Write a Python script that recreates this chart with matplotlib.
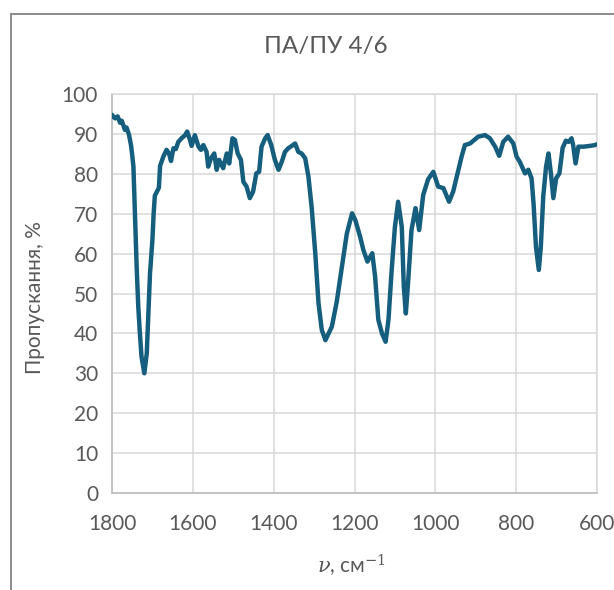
import matplotlib
matplotlib.use("Agg")
import matplotlib.pyplot as plt
from matplotlib.patches import Rectangle

wavenumber = [1800, 1796, 1792, 1786, 1780, 1776, 1772, 1768, 1764, 1758, 1753, 1750,
              1747, 1743, 1739, 1735, 1731, 1727, 1720, 1714, 1710, 1706, 1700, 1697,
              1694, 1689, 1684, 1681, 1673, 1665, 1659, 1654, 1648, 1642, 1636, 1628,
              1619, 1614, 1607, 1603, 1595, 1586, 1580, 1574, 1566, 1562, 1555, 1547,
              1541, 1535, 1525, 1516, 1510, 1502, 1496, 1489, 1481, 1475, 1467, 1459,
              1451, 1443, 1436, 1430, 1421, 1415, 1406, 1397, 1388, 1380, 1372, 1364,
              1355, 1347, 1339, 1331, 1322, 1314, 1306, 1297, 1289, 1281, 1272, 1264,
              1256, 1244, 1231, 1219, 1206, 1198, 1186, 1178, 1168, 1156, 1149, 1141,
              1132, 1123, 1116, 1108, 1100, 1092, 1083, 1078, 1073, 1067, 1059, 1049,
              1040, 1030, 1018, 1005, 993, 980, 966, 956, 943, 935, 927, 914, 894, 877,
              865, 852, 842, 832, 820, 807, 799, 791, 778, 770, 762, 757, 751, 744, 739,
              733, 726, 720, 714, 708, 701, 693, 685, 677, 670, 663, 659, 653, 646, 633,
              617, 605, 600]
transmittance = [94.8, 94.2, 93.9, 94.4, 92.8, 93.3, 92.2, 91.0, 91.6, 89.8, 87.2, 84.7,
                 81.8, 69.2, 56.7, 46.7, 40.0, 34.2, 30.0, 35.0, 45.0, 55.0, 63.4, 70.0,
                 74.5, 75.5, 76.5, 82.0, 84.3, 86.0, 85.1, 83.2, 86.4, 86.2, 88.0, 88.9,
                 89.7, 90.6, 88.5, 87.0, 89.7, 86.8, 86.0, 87.2, 85.5, 81.8, 83.9, 85.1,
                 81.0, 83.5, 81.4, 85.1, 82.6, 88.9, 88.5, 85.1, 83.5, 78.0, 76.8, 73.9,
                 75.5, 80.1, 80.5, 86.8, 88.9, 89.7, 87.2, 83.5, 81.0, 83.0, 85.5, 86.4,
                 87.0, 87.6, 85.5, 85.1, 83.9, 79.3, 71.6, 60.0, 47.5, 40.9, 38.3, 40.0,
                 41.7, 47.9, 56.7, 65.0, 70.1, 68.4, 64.2, 60.9, 58.0, 60.1, 54.2, 43.4,
                 40.0, 37.9, 43.4, 55.9, 66.7, 73.0, 66.7, 51.7, 45.0, 53.4, 65.9, 71.4,
                 65.9, 74.7, 78.6, 80.5, 76.8, 76.4, 73.0, 75.5, 80.9, 84.3, 87.2, 87.6, 89.3, 89.7,
                 88.9, 86.8, 84.5, 88.0, 89.3, 87.6, 84.3, 83.0, 80.1, 81.0, 78.9, 72.6, 61.7, 55.9, 61.7,
                 74.3, 81.8, 85.1, 80.1, 73.9, 78.9, 80.1, 86.5, 88.3, 88.0, 88.9, 87.2, 82.6, 86.8, 86.8,
                 87.0, 87.2, 87.4]

x_ticks = [1800, 1600, 1400, 1200, 1000, 800, 600]
y_ticks = [0, 10, 20, 30, 40, 50, 60, 70, 80, 90, 100]
title = "ПА/ПУ 4/6"
y_label = "Пропускання, %"
x_label = r"$\nu$, см$^{-1}$"

plt.rcParams['font.family'] = ['Lato', 'Open Sans', 'DejaVu Sans']
plt.rcParams['mathtext.fontset'] = 'dejavuserif'
text_color = '#595959'
fs = 15

fig = plt.figure(figsize=(6.14, 5.90), dpi=100)
W, H = 614, 590
ax = fig.add_axes([112 / W, 1 - 493 / H, (597 - 112) / W, (493 - 94) / H])

ax.plot(wavenumber, transmittance, color='#165E7D', lw=3.2,
        solid_joinstyle='round', solid_capstyle='round', zorder=3)

ax.set_xlim(1800, 600)
ax.set_ylim(0, 100)
ax.set_xticks(x_ticks)
ax.set_yticks(y_ticks)
ax.grid(True, color='#d9d9d9', lw=1.1, zorder=0)
ax.set_axisbelow(True)
for s in ['top', 'right']:
    ax.spines[s].set_color('#d9d9d9')
    ax.spines[s].set_linewidth(1.1)
for s in ['left', 'bottom']:
    ax.spines[s].set_color('#bfbfbf')
    ax.spines[s].set_linewidth(1.3)
ax.tick_params(axis='both', length=0, labelsize=fs, labelcolor=text_color)
ax.tick_params(axis='x', pad=15)
ax.tick_params(axis='y', pad=10)

fig.text(326 / W, 1 - 47 / H, title, ha='center', va='center', fontsize=17.5, color=text_color)
fig.text(35 / W, 1 - 298 / H, y_label, ha='center', va='center', rotation=90,
         fontsize=fs, color=text_color)
fig.text(352 / W, 1 - 566 / H, x_label, ha='center', va='center', fontsize=fs, color=text_color)

fig.patches.append(Rectangle((10.5 / W, -0.1), 1.2, 1.1 - 14.5 / H,
                             transform=fig.transFigure, fill=False,
                             edgecolor='#8c8c8c', lw=1.4, clip_on=False))

fig.savefig('out.png', dpi=100)
